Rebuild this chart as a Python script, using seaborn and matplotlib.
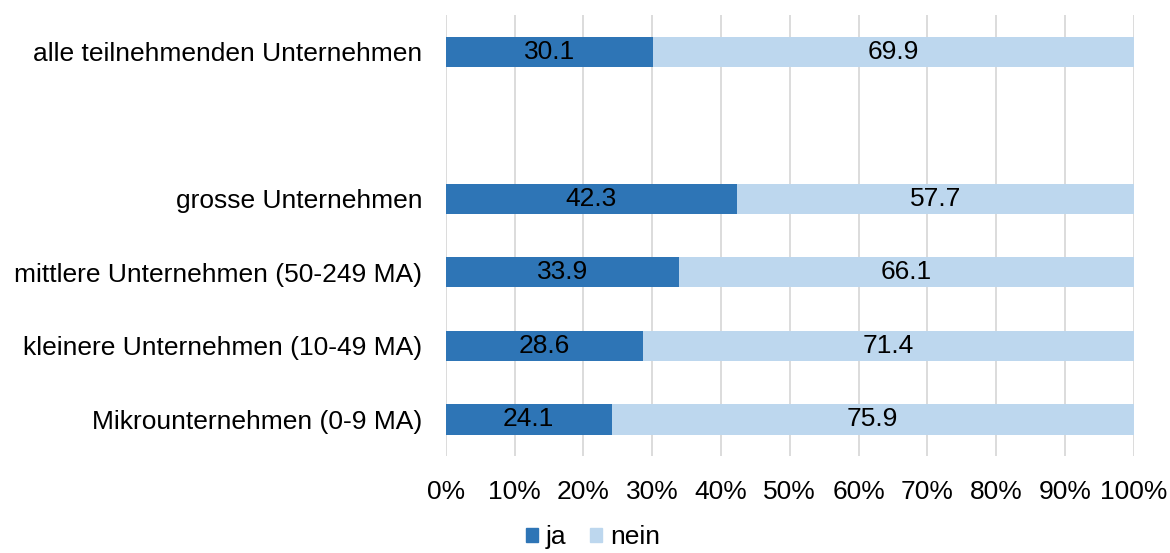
import pandas as pd
import matplotlib.pyplot as plt
import seaborn as sns
from matplotlib.patches import Patch

# Daten (von oben nach unten, leere Zeile als Abstand)
kategorien = ['alle teilnehmenden Unternehmen', '', 'grosse Unternehmen',
              'mittlere Unternehmen (50-249 MA)', 'kleinere Unternehmen (10-49 MA)',
              'Mikrounternehmen (0-9 MA)']
gruppen = ['alle teilnehmenden Unternehmen', 'grosse Unternehmen',
           'mittlere Unternehmen (50-249 MA)', 'kleinere Unternehmen (10-49 MA)',
           'Mikrounternehmen (0-9 MA)']
ja = [30.1, 42.3, 33.9, 28.6, 24.1]
nein = [69.9, 57.7, 66.1, 71.4, 75.9]
x_ticks = [0, 10, 20, 30, 40, 50, 60, 70, 80, 90, 100]

farbe_ja = '#2e75b6'
farbe_nein = '#bdd7ee'
fs = 19

sns.set_theme(style='white')
plt.rcParams['font.family'] = ['Liberation Sans', 'DejaVu Sans']

df = pd.DataFrame({'Gruppe': gruppen, 'ja': ja, 'nein': nein})
df['gesamt'] = df['ja'] + df['nein']

fig = plt.figure(figsize=(11.7, 5.53), dpi=100)
ax = fig.add_axes([0.381, 0.175, 0.588, 0.798])

sns.barplot(data=df, y='Gruppe', x='gesamt', order=kategorien, color=farbe_nein,
            width=0.41, saturation=1, ax=ax, orient='h', zorder=2, linewidth=0)
sns.barplot(data=df, y='Gruppe', x='ja', order=kategorien, color=farbe_ja,
            width=0.41, saturation=1, ax=ax, orient='h', zorder=3, linewidth=0)

# Werte in die Balken schreiben
for i, row in df.iterrows():
    pos = kategorien.index(row['Gruppe'])
    ax.text(row['ja'] / 2, pos, f"{row['ja']:.1f}", ha='center', va='center',
            fontsize=fs, color='black', zorder=4)
    ax.text(row['ja'] + row['nein'] / 2, pos, f"{row['nein']:.1f}", ha='center',
            va='center', fontsize=fs, color='black', zorder=4)

ax.set_xlim(0, 100)
ax.set_ylim(5.5, -0.5)
ax.set_xticks(x_ticks)
ax.set_xticklabels([f'{t}%' for t in x_ticks])
ax.xaxis.grid(True, color='#d9d9d9', linewidth=1.3, zorder=0)
ax.set_axisbelow(True)
ax.set_xlabel('')
ax.set_ylabel('')
for s in ax.spines.values():
    s.set_visible(False)
ax.tick_params(axis='x', length=0, pad=17, labelsize=fs, labelcolor='black')
ax.tick_params(axis='y', length=0, pad=17, labelsize=fs, labelcolor='black')

handles = [Patch(color=farbe_ja, label='ja'), Patch(color=farbe_nein, label='nein')]
fig.legend(handles=handles, loc='lower center', bbox_to_anchor=(0.507, -0.036), ncol=2,
           frameon=False, fontsize=fs, handlelength=0.45, handleheight=0.45,
           handletextpad=0.3, columnspacing=0.9, labelcolor='black')

plt.savefig('out.png', dpi=100)
